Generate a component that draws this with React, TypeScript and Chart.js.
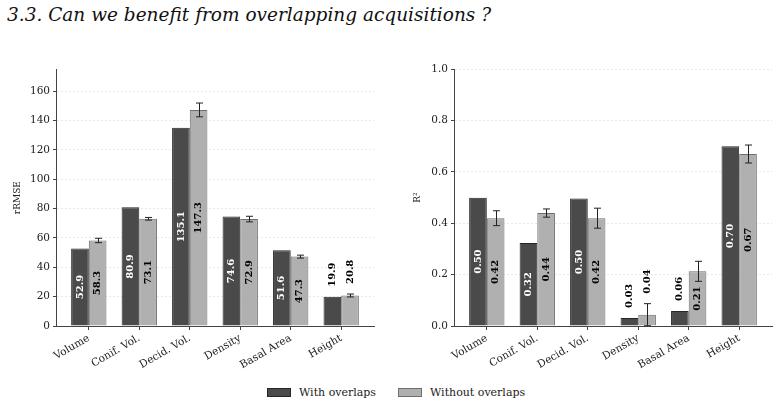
import React, { useEffect, useRef } from 'react';
import { Chart, registerables } from 'chart.js';

Chart.register(...registerables);

const categories = ['Volume', 'Conif. Vol.', 'Decid. Vol.', 'Density', 'Basal Area', 'Height'];
const seriesNames = ['With overlaps', 'Without overlaps'];

const rmseWith = [52.9, 80.9, 135.1, 74.6, 51.6, 19.9];
const rmseWithout = [58.3, 73.1, 147.3, 72.9, 47.3, 20.8];
const rmseWithoutErr = [1.5, 0.9, 4.7, 1.9, 1.0, 1.0];

const r2With = [0.5, 0.323, 0.497, 0.031, 0.058, 0.7];
const r2Without = [0.42, 0.44, 0.42, 0.044, 0.213, 0.67];
const r2WithoutErr = [0.029, 0.016, 0.039, 0.043, 0.039, 0.035];

const DARK = '#4a4a4a';
const DARK_EDGE = '#262626';
const LIGHT = '#b0b0b0';
const LIGHT_EDGE = '#6e6e6e';
const AXIS = '#444444';
const TEXT = '#222222';
const FONT = 'DejaVu Serif';

const barExtras = {
  id: 'barExtras',
  afterDatasetsDraw(chart: any, _args: any, opts: any) {
    const ctx = chart.ctx;
    const yScale = chart.scales.y;
    ctx.save();
    chart.data.datasets.forEach((ds: any, di: number) => {
      const meta = chart.getDatasetMeta(di);
      const errs: number[] | null = opts.errors[di];
      meta.data.forEach((bar: any, i: number) => {
        const v = ds.data[i].y;
        let top = bar.y;
        if (errs) {
          const e = errs[i];
          const yt = yScale.getPixelForValue(v + e);
          const yb = yScale.getPixelForValue(v - e);
          const x = Math.round(bar.x) + 0.5;
          ctx.strokeStyle = '#222';
          ctx.lineWidth = 1;
          ctx.beginPath();
          ctx.moveTo(x, yt);
          ctx.lineTo(x, yb);
          ctx.moveTo(x - 3.5, yt);
          ctx.lineTo(x + 3.5, yt);
          ctx.moveTo(x - 3.5, yb);
          ctx.lineTo(x + 3.5, yb);
          ctx.stroke();
          top = Math.min(top, yt);
        }
        const text = v.toFixed(opts.decimals);
        ctx.font = `bold 10px "${FONT}"`;
        const w = ctx.measureText(text).width;
        const h = bar.base - bar.y;
        let cy: number;
        let color: string;
        if (h > w + 8) {
          cy = (bar.y + bar.base) / 2;
          color = opts.labelColors[di];
        } else {
          cy = top - 10 - w / 2;
          color = '#000';
        }
        ctx.save();
        ctx.translate(bar.x, cy);
        ctx.rotate(-Math.PI / 2);
        ctx.fillStyle = color;
        ctx.textAlign = 'center';
        ctx.textBaseline = 'middle';
        ctx.fillText(text, 0, 0);
        ctx.restore();
      });
    });
    ctx.restore();
  },
};

type Props = {
  left: number;
  top: number;
  width: number;
  height: number;
  yMax: number;
  yStep: number;
  yTitle: string;
  withVals: number[];
  withoutVals: number[];
  withoutErr: number[];
  decimals: number;
  tickDecimals: number;
  yAxisWidth: number;
  titlePad: number;
  padRight: number;
};

function BarPanel(p: Props) {
  const ref = useRef<HTMLCanvasElement>(null);
  useEffect(() => {
    const font = { family: FONT, size: 10.5 };
    const chart = new Chart(ref.current as HTMLCanvasElement, {
      type: 'bar',
      data: {
        datasets: [
          {
            label: seriesNames[0],
            data: p.withVals.map((v, i) => ({ x: i, y: v })),
            backgroundColor: DARK,
            borderColor: DARK_EDGE,
            borderWidth: 1,
          },
          {
            label: seriesNames[1],
            data: p.withoutVals.map((v, i) => ({ x: i, y: v })),
            backgroundColor: LIGHT,
            borderColor: LIGHT_EDGE,
            borderWidth: 1,
          },
        ],
      },
      options: {
        animation: false,
        responsive: false,
        maintainAspectRatio: false,
        devicePixelRatio: 1,
        layout: { padding: { top: 8, right: p.padRight, left: 0, bottom: 0 } },
        datasets: { bar: { categoryPercentage: 0.7, barPercentage: 1.0 } },
        plugins: {
          legend: { display: false },
          tooltip: { enabled: false },
          barExtras: {
            errors: [null, p.withoutErr],
            decimals: p.decimals,
            labelColors: ['#ffffff', '#000000'],
          },
        } as any,
        scales: {
          x: {
            type: 'linear',
            min: -0.65,
            max: 5.65,
            offset: false,
            grid: {
              offset: false,
              drawOnChartArea: false,
              drawTicks: true,
              tickLength: 4,
              tickColor: AXIS,
              tickWidth: 1,
            },
            border: { color: AXIS, width: 1 },
            ticks: {
              stepSize: 1,
              includeBounds: false,
              autoSkip: false,
              maxRotation: 30,
              minRotation: 30,
              padding: 2,
              color: TEXT,
              font,
              callback: (v: any) => categories[v] ?? '',
            },
            afterFit: (s: any) => {
              s.height = 44;
            },
          },
          y: {
            min: 0,
            max: p.yMax,
            ticks: {
              stepSize: p.yStep,
              includeBounds: false,
              padding: 3,
              color: TEXT,
              font,
              callback: (v: any) => Number(v).toFixed(p.tickDecimals),
            },
            grid: {
              color: '#e4e4e4',
              lineWidth: 0.8,
              tickColor: AXIS,
              tickLength: 3,
              tickWidth: 1,
              tickBorderDash: [],
            },
            border: { color: AXIS, width: 1, dash: [2, 2] },
            title: {
              display: true,
              text: p.yTitle,
              font: { family: FONT, size: 9 },
              color: TEXT,
              padding: { top: p.titlePad, bottom: 0 },
            },
            afterFit: (s: any) => {
              s.width = p.yAxisWidth;
            },
          },
        } as any,
      },
      plugins: [barExtras as any],
    });
    return () => chart.destroy();
  }, []);
  return (
    <canvas
      ref={ref}
      width={p.width}
      height={p.height}
      style={{ position: 'absolute', left: p.left, top: p.top, width: p.width, height: p.height }}
    />
  );
}

function LegendItem({ color, edge, label }: { color: string; edge: string; label: string }) {
  return (
    <div style={{ display: 'flex', alignItems: 'center', marginRight: 22 }}>
      <div
        style={{
          width: 22,
          height: 7,
          background: color,
          border: `1px solid ${edge}`,
          marginRight: 8,
        }}
      />
      <span style={{ fontFamily: FONT, fontSize: 11, color: TEXT }}>{label}</span>
    </div>
  );
}

export default function App() {
  return (
    <div
      style={{
        position: 'fixed',
        left: 0,
        top: 0,
        width: 779,
        height: 405,
        background: '#fff',
        overflow: 'hidden',
      }}
    >
      <div
        style={{
          position: 'absolute',
          left: 7,
          top: 6,
          fontFamily: '"DejaVu Serif", serif',
          fontStyle: 'italic',
          fontSize: 18.5,
          lineHeight: '18.5px',
          color: '#111',
          whiteSpace: 'nowrap',
        }}
      >
        3.3. Can we benefit from overlapping acquisitions ?
      </div>
      <BarPanel
        left={0}
        top={60}
        width={385}
        height={310}
        yMax={175}
        yStep={20}
        yTitle="rRMSE"
        withVals={rmseWith}
        withoutVals={rmseWithout}
        withoutErr={rmseWithoutErr}
        decimals={1}
        tickDecimals={0}
        yAxisWidth={56}
        titlePad={12}
        padRight={11}
      />
      <BarPanel
        left={390}
        top={60}
        width={389}
        height={310}
        yMax={1.0}
        yStep={0.2}
        yTitle="R²"
        withVals={r2With}
        withoutVals={r2Without}
        withoutErr={r2WithoutErr}
        decimals={2}
        tickDecimals={1}
        yAxisWidth={64}
        titlePad={22}
        padRight={7}
      />
      <div
        style={{
          position: 'absolute',
          left: 267,
          top: 386,
          display: 'flex',
          alignItems: 'center',
          height: 12,
        }}
      >
        <LegendItem color={DARK} edge={DARK_EDGE} label={seriesNames[0]} />
        <LegendItem color={LIGHT} edge={LIGHT_EDGE} label={seriesNames[1]} />
      </div>
    </div>
  );
}
